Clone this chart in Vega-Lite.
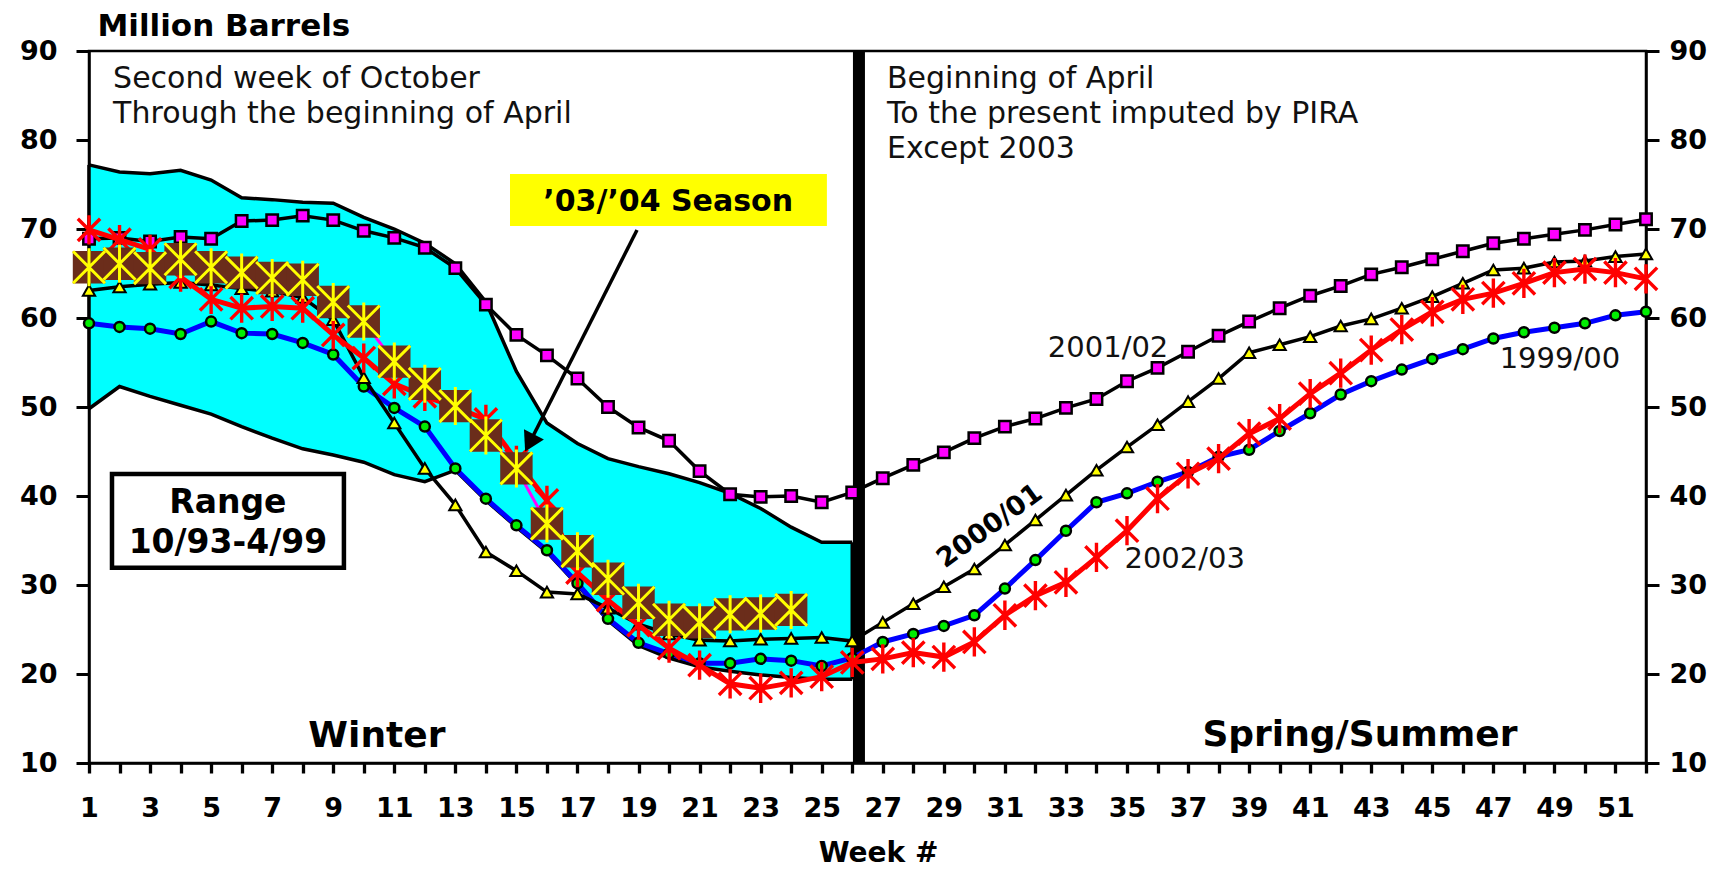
{
"$schema":"https://vega.github.io/schema/vega-lite/v6.json",
"width":1557,"height":712,
"autosize":{"type":"none"},
"padding":{"left":89,"top":51,"right":87,"bottom":106},
"background":"#ffffff",
"datasets":{
"series":[
{"week":1,"series":"2001/02","value":68.9},{"week":2,"series":"2001/02","value":69.0},{"week":3,"series":"2001/02","value":68.6},{"week":4,"series":"2001/02","value":69.1},{"week":5,"series":"2001/02","value":68.9},{"week":6,"series":"2001/02","value":70.9},{"week":7,"series":"2001/02","value":71.0},{"week":8,"series":"2001/02","value":71.5},{"week":9,"series":"2001/02","value":71.0},{"week":10,"series":"2001/02","value":69.8},
{"week":11,"series":"2001/02","value":69.0},{"week":12,"series":"2001/02","value":67.9},{"week":13,"series":"2001/02","value":65.6},{"week":14,"series":"2001/02","value":61.5},{"week":15,"series":"2001/02","value":58.1},{"week":16,"series":"2001/02","value":55.8},{"week":17,"series":"2001/02","value":53.2},{"week":18,"series":"2001/02","value":50.0},{"week":19,"series":"2001/02","value":47.7},{"week":20,"series":"2001/02","value":46.2},
{"week":21,"series":"2001/02","value":42.8},{"week":22,"series":"2001/02","value":40.2},{"week":23,"series":"2001/02","value":39.9},{"week":24,"series":"2001/02","value":40.0},{"week":25,"series":"2001/02","value":39.3},{"week":26,"series":"2001/02","value":40.4},{"week":27,"series":"2001/02","value":42.0},{"week":28,"series":"2001/02","value":43.5},{"week":29,"series":"2001/02","value":44.9},{"week":30,"series":"2001/02","value":46.5},
{"week":31,"series":"2001/02","value":47.8},{"week":32,"series":"2001/02","value":48.7},{"week":33,"series":"2001/02","value":49.9},{"week":34,"series":"2001/02","value":50.9},{"week":35,"series":"2001/02","value":52.9},{"week":36,"series":"2001/02","value":54.4},{"week":37,"series":"2001/02","value":56.2},{"week":38,"series":"2001/02","value":58.0},{"week":39,"series":"2001/02","value":59.6},{"week":40,"series":"2001/02","value":61.1},
{"week":41,"series":"2001/02","value":62.5},{"week":42,"series":"2001/02","value":63.6},{"week":43,"series":"2001/02","value":64.9},{"week":44,"series":"2001/02","value":65.7},{"week":45,"series":"2001/02","value":66.6},{"week":46,"series":"2001/02","value":67.5},{"week":47,"series":"2001/02","value":68.4},{"week":48,"series":"2001/02","value":68.9},{"week":49,"series":"2001/02","value":69.4},{"week":50,"series":"2001/02","value":69.9},
{"week":51,"series":"2001/02","value":70.5},{"week":52,"series":"2001/02","value":71.1},
{"week":1,"series":"2000/01","value":63.1},{"week":2,"series":"2000/01","value":63.5},{"week":3,"series":"2000/01","value":63.8},{"week":4,"series":"2000/01","value":64.0},{"week":5,"series":"2000/01","value":63.7},{"week":6,"series":"2000/01","value":63.3},{"week":7,"series":"2000/01","value":63.0},{"week":8,"series":"2000/01","value":62.3},{"week":9,"series":"2000/01","value":59.8},{"week":10,"series":"2000/01","value":53.3},
{"week":11,"series":"2000/01","value":48.2},{"week":12,"series":"2000/01","value":43.1},{"week":13,"series":"2000/01","value":39.0},{"week":14,"series":"2000/01","value":33.7},{"week":15,"series":"2000/01","value":31.6},{"week":16,"series":"2000/01","value":29.2},{"week":17,"series":"2000/01","value":29.0},{"week":18,"series":"2000/01","value":27.4},{"week":19,"series":"2000/01","value":25.6},{"week":20,"series":"2000/01","value":24.5},
{"week":21,"series":"2000/01","value":23.8},{"week":22,"series":"2000/01","value":23.7},{"week":23,"series":"2000/01","value":23.9},{"week":24,"series":"2000/01","value":24.0},{"week":25,"series":"2000/01","value":24.1},{"week":26,"series":"2000/01","value":23.7},{"week":27,"series":"2000/01","value":25.8},{"week":28,"series":"2000/01","value":27.9},{"week":29,"series":"2000/01","value":29.8},{"week":30,"series":"2000/01","value":31.8},
{"week":31,"series":"2000/01","value":34.5},{"week":32,"series":"2000/01","value":37.3},{"week":33,"series":"2000/01","value":40.1},{"week":34,"series":"2000/01","value":42.9},{"week":35,"series":"2000/01","value":45.5},{"week":36,"series":"2000/01","value":48.0},{"week":37,"series":"2000/01","value":50.6},{"week":38,"series":"2000/01","value":53.2},{"week":39,"series":"2000/01","value":56.1},{"week":40,"series":"2000/01","value":57.0},
{"week":41,"series":"2000/01","value":57.9},{"week":42,"series":"2000/01","value":59.1},{"week":43,"series":"2000/01","value":59.9},{"week":44,"series":"2000/01","value":61.1},{"week":45,"series":"2000/01","value":62.4},{"week":46,"series":"2000/01","value":63.9},{"week":47,"series":"2000/01","value":65.4},{"week":48,"series":"2000/01","value":65.6},{"week":49,"series":"2000/01","value":66.3},{"week":50,"series":"2000/01","value":66.4},
{"week":51,"series":"2000/01","value":66.9},{"week":52,"series":"2000/01","value":67.2},
{"week":1,"series":"1999/00","value":59.4},{"week":2,"series":"1999/00","value":59.0},{"week":3,"series":"1999/00","value":58.8},{"week":4,"series":"1999/00","value":58.2},{"week":5,"series":"1999/00","value":59.6},{"week":6,"series":"1999/00","value":58.3},{"week":7,"series":"1999/00","value":58.2},{"week":8,"series":"1999/00","value":57.2},{"week":9,"series":"1999/00","value":55.9},{"week":10,"series":"1999/00","value":52.3},
{"week":11,"series":"1999/00","value":49.9},{"week":12,"series":"1999/00","value":47.8},{"week":13,"series":"1999/00","value":43.1},{"week":14,"series":"1999/00","value":39.7},{"week":15,"series":"1999/00","value":36.7},{"week":16,"series":"1999/00","value":33.9},{"week":17,"series":"1999/00","value":30.2},{"week":18,"series":"1999/00","value":26.2},{"week":19,"series":"1999/00","value":23.5},{"week":20,"series":"1999/00","value":22.3},
{"week":21,"series":"1999/00","value":21.2},{"week":22,"series":"1999/00","value":21.2},{"week":23,"series":"1999/00","value":21.7},{"week":24,"series":"1999/00","value":21.5},{"week":25,"series":"1999/00","value":20.9},{"week":26,"series":"1999/00","value":21.8},{"week":27,"series":"1999/00","value":23.6},{"week":28,"series":"1999/00","value":24.5},{"week":29,"series":"1999/00","value":25.4},{"week":30,"series":"1999/00","value":26.6},
{"week":31,"series":"1999/00","value":29.6},{"week":32,"series":"1999/00","value":32.8},{"week":33,"series":"1999/00","value":36.1},{"week":34,"series":"1999/00","value":39.3},{"week":35,"series":"1999/00","value":40.3},{"week":36,"series":"1999/00","value":41.6},{"week":37,"series":"1999/00","value":42.7},{"week":38,"series":"1999/00","value":44.4},{"week":39,"series":"1999/00","value":45.2},{"week":40,"series":"1999/00","value":47.3},
{"week":41,"series":"1999/00","value":49.3},{"week":42,"series":"1999/00","value":51.4},{"week":43,"series":"1999/00","value":52.9},{"week":44,"series":"1999/00","value":54.2},{"week":45,"series":"1999/00","value":55.4},{"week":46,"series":"1999/00","value":56.5},{"week":47,"series":"1999/00","value":57.7},{"week":48,"series":"1999/00","value":58.4},{"week":49,"series":"1999/00","value":58.9},{"week":50,"series":"1999/00","value":59.4},
{"week":51,"series":"1999/00","value":60.3},{"week":52,"series":"1999/00","value":60.7},
{"week":1,"series":"2002/03","value":69.9},{"week":2,"series":"2002/03","value":68.8},{"week":3,"series":"2002/03","value":67.7},{"week":4,"series":"2002/03","value":64.6},{"week":5,"series":"2002/03","value":62.1},{"week":6,"series":"2002/03","value":61.1},{"week":7,"series":"2002/03","value":61.3},{"week":8,"series":"2002/03","value":61.1},{"week":9,"series":"2002/03","value":58.1},{"week":10,"series":"2002/03","value":55.5},
{"week":11,"series":"2002/03","value":52.6},{"week":12,"series":"2002/03","value":51.2},{"week":13,"series":"2002/03","value":50.0},{"week":14,"series":"2002/03","value":48.6},{"week":15,"series":"2002/03","value":44.0},{"week":16,"series":"2002/03","value":39.5},{"week":17,"series":"2002/03","value":31.4},{"week":18,"series":"2002/03","value":28.3},{"week":19,"series":"2002/03","value":25.5},{"week":20,"series":"2002/03","value":22.9},
{"week":21,"series":"2002/03","value":21.0},{"week":22,"series":"2002/03","value":18.9},{"week":23,"series":"2002/03","value":18.4},{"week":24,"series":"2002/03","value":19.0},{"week":25,"series":"2002/03","value":19.7},{"week":26,"series":"2002/03","value":21.3},{"week":27,"series":"2002/03","value":21.7},{"week":28,"series":"2002/03","value":22.4},{"week":29,"series":"2002/03","value":21.9},{"week":30,"series":"2002/03","value":23.6},
{"week":31,"series":"2002/03","value":26.6},{"week":32,"series":"2002/03","value":28.8},{"week":33,"series":"2002/03","value":30.3},{"week":34,"series":"2002/03","value":33.1},{"week":35,"series":"2002/03","value":36.1},{"week":36,"series":"2002/03","value":39.7},{"week":37,"series":"2002/03","value":42.5},{"week":38,"series":"2002/03","value":44.2},{"week":39,"series":"2002/03","value":47.0},{"week":40,"series":"2002/03","value":48.7},
{"week":41,"series":"2002/03","value":51.5},{"week":42,"series":"2002/03","value":53.8},{"week":43,"series":"2002/03","value":56.4},{"week":44,"series":"2002/03","value":58.7},{"week":45,"series":"2002/03","value":60.7},{"week":46,"series":"2002/03","value":62.1},{"week":47,"series":"2002/03","value":62.8},{"week":48,"series":"2002/03","value":63.9},{"week":49,"series":"2002/03","value":65.1},{"week":50,"series":"2002/03","value":65.5},
{"week":51,"series":"2002/03","value":65.1},{"week":52,"series":"2002/03","value":64.4},
{"week":1,"series":"2003/04","value":65.7},{"week":2,"series":"2003/04","value":66.1},{"week":3,"series":"2003/04","value":65.6},{"week":4,"series":"2003/04","value":66.6},{"week":5,"series":"2003/04","value":65.7},{"week":6,"series":"2003/04","value":65.1},{"week":7,"series":"2003/04","value":64.5},{"week":8,"series":"2003/04","value":64.3},{"week":9,"series":"2003/04","value":61.8},{"week":10,"series":"2003/04","value":59.6},
{"week":11,"series":"2003/04","value":55.1},{"week":12,"series":"2003/04","value":52.6},{"week":13,"series":"2003/04","value":50.1},{"week":14,"series":"2003/04","value":46.8},{"week":15,"series":"2003/04","value":43.1},{"week":16,"series":"2003/04","value":36.9},{"week":17,"series":"2003/04","value":33.8},{"week":18,"series":"2003/04","value":30.7},{"week":19,"series":"2003/04","value":28.0},{"week":20,"series":"2003/04","value":26.1},
{"week":21,"series":"2003/04","value":25.8},{"week":22,"series":"2003/04","value":26.7},{"week":23,"series":"2003/04","value":26.8},{"week":24,"series":"2003/04","value":27.2}
],
"range":[
{"week":1,"lo":49.8,"hi":77.2},{"week":2,"lo":52.3,"hi":76.4},{"week":3,"lo":51.2,"hi":76.2},{"week":4,"lo":50.2,"hi":76.6},{"week":5,"lo":49.2,"hi":75.5},{"week":6,"lo":47.8,"hi":73.5},{"week":7,"lo":46.5,"hi":73.3},{"week":8,"lo":45.3,"hi":73.0},{"week":9,"lo":44.6,"hi":72.9},{"week":10,"lo":43.8,"hi":71.3},
{"week":11,"lo":42.4,"hi":70.0},{"week":12,"lo":41.6,"hi":68.4},{"week":13,"lo":42.9,"hi":66.1},{"week":14,"lo":39.5,"hi":61.8},{"week":15,"lo":36.5,"hi":54.0},{"week":16,"lo":33.7,"hi":48.2},{"week":17,"lo":30.0,"hi":45.9},{"week":18,"lo":26.0,"hi":44.2},{"week":19,"lo":23.2,"hi":43.3},{"week":20,"lo":21.8,"hi":42.5},
{"week":21,"lo":20.8,"hi":41.5},{"week":22,"lo":20.3,"hi":40.3},{"week":23,"lo":19.9,"hi":38.6},{"week":24,"lo":19.6,"hi":36.5},{"week":25,"lo":19.4,"hi":34.8},{"week":26,"lo":19.4,"hi":34.8}
],
"notes":[
{"kind":"note","week":1.79,"val":85.8,"label":"Second week of October"},
{"kind":"note","week":1.79,"val":81.9,"label":"Through the beginning of April"},
{"kind":"note","week":27.14,"val":85.8,"label":"Beginning of April"},
{"kind":"note","week":27.14,"val":81.9,"label":"To the present imputed by PIRA"},
{"kind":"note","week":27.14,"val":77.95,"label":"Except 2003"},
{"kind":"season","week":34.38,"val":55.65,"label":"2001/02"},
{"kind":"season","week":36.89,"val":31.88,"label":"2002/03"},
{"kind":"season","week":49.18,"val":54.35,"label":"1999/00"},
{"kind":"seasonRot","week":30.51,"val":36.6,"label":"2000/01"},
{"kind":"big","week":10.43,"val":11.83,"label":"Winter"},
{"kind":"big","week":42.63,"val":11.9,"label":"Spring/Summer"},
{"kind":"rangeText","week":5.55,"val":38.12,"label":"Range"},
{"kind":"rangeText","week":5.55,"val":33.63,"label":"10/93-4/99"},
{"kind":"rangeBox","week":1.753,"week2":9.35,"val":42.47,"val2":31.94},
{"kind":"seasonBox","week":14.79,"week2":25.17,"val":76.18,"val2":70.34},
{"kind":"seasonText","week":19.97,"val":72.0,"label":"’03/’04 Season"},
{"kind":"arrow","week":18.95,"week2":15.43,"val":69.89,"val2":45.96},
{"kind":"arrowHead","week":15.43,"val":45.96},
{"kind":"divider","week":26.22}
]
},
"encoding":{"x":{"field":"week","type":"quantitative","scale":{"domain":[1,52],"nice":false,"zero":false},
"axis":{"values":[1,2,3,4,5,6,7,8,9,10,11,12,13,14,15,16,17,18,19,20,21,22,23,24,25,26,27,28,29,30,31,32,33,34,35,36,37,38,39,40,41,42,43,44,45,46,47,48,49,50,51,52],
"labelExpr":"datum.value % 2 === 1 ? datum.label : ''","labelOverlap":false,"labelFlush":false,"labelPadding":22,"tickSize":10,"tickWidth":3.3,
"title":"Week #","titleFontSize":28,"titlePadding":18,"titleX":789}}},
"layer":[
{"data":{"name":"range"},"mark":{"type":"area","color":"#00FFFF","opacity":1},
"encoding":{"y":{"field":"lo","type":"quantitative","scale":{"domain":[10,90],"nice":false,"zero":false},
"axis":{"orient":"left","values":[10,20,30,40,50,60,70,80,90],"title":"Million Barrels","titleAngle":0,"titleAlign":"left","titleBaseline":"alphabetic","titleX":8,"titleY":-16,"titleFontSize":31,"labelPadding":19,"tickSize":13}},
"y2":{"field":"hi"}}},
{"data":{"name":"range"},"mark":{"type":"line","color":"#000000","strokeWidth":3.5},"encoding":{"y":{"field":"hi","type":"quantitative","axis":null}}},
{"data":{"name":"range"},"mark":{"type":"line","color":"#000000","strokeWidth":3.5},"encoding":{"y":{"field":"lo","type":"quantitative","axis":null}}},
{"data":{"name":"range"},"transform":[{"filter":"datum.week == 1 || datum.week == 26"}],"mark":{"type":"rule","color":"#000000","strokeWidth":3.5},"encoding":{"y":{"field":"lo","type":"quantitative","axis":null},"y2":{"field":"hi"}}},
{"data":{"name":"notes"},"transform":[{"filter":"datum.kind == 'divider'"}],"mark":{"type":"rule","color":"#000000","strokeWidth":12},"encoding":{}},
{"data":{"name":"series"},"transform":[{"filter":"datum.series == '1999/00'"}],"mark":{"type":"line","color":"#0000FF","strokeWidth":5},"encoding":{"y":{"field":"value","type":"quantitative","axis":null}}},
{"data":{"name":"series"},"transform":[{"filter":"datum.series == '1999/00'"}],"mark":{"type":"point","shape":"circle","filled":true,"fill":"#00EE00","stroke":"#000000","strokeWidth":2.5,"size":100,"opacity":1},"encoding":{"y":{"field":"value","type":"quantitative","axis":null}}},
{"data":{"name":"series"},"transform":[{"filter":"datum.series == '2000/01'"}],"mark":{"type":"line","color":"#000000","strokeWidth":3.5},"encoding":{"y":{"field":"value","type":"quantitative","axis":null}}},
{"data":{"name":"series"},"transform":[{"filter":"datum.series == '2000/01'"}],"mark":{"type":"point","shape":"triangle-up","filled":true,"fill":"#FFFF00","stroke":"#000000","strokeWidth":2,"size":150,"opacity":1},"encoding":{"y":{"field":"value","type":"quantitative","axis":null}}},
{"data":{"name":"series"},"transform":[{"filter":"datum.series == '2001/02'"}],"mark":{"type":"line","color":"#000000","strokeWidth":3.5},"encoding":{"y":{"field":"value","type":"quantitative","axis":null}}},
{"data":{"name":"series"},"transform":[{"filter":"datum.series == '2001/02'"}],"mark":{"type":"point","shape":"square","filled":true,"fill":"#FF00FF","stroke":"#000000","strokeWidth":2.5,"size":130,"opacity":1},"encoding":{"y":{"field":"value","type":"quantitative","axis":null}}},
{"data":{"name":"series"},"transform":[{"filter":"datum.series == '2002/03'"}],"mark":{"type":"line","color":"#FF0000","strokeWidth":5},"encoding":{"y":{"field":"value","type":"quantitative","axis":null}}},
{"data":{"name":"series"},"transform":[{"filter":"datum.series == '2002/03'"}],"mark":{"type":"point","shape":"M-0.8,-0.8L0.8,0.8M0.8,-0.8L-0.8,0.8M0,-1.05L0,1.05","filled":false,"stroke":"#FF0000","strokeWidth":3.4,"size":780,"opacity":1},"encoding":{"y":{"field":"value","type":"quantitative","axis":null}}},
{"data":{"name":"series"},"transform":[{"filter":"datum.series == '2003/04'"}],"mark":{"type":"line","color":"#FF00FF","strokeWidth":3},"encoding":{"y":{"field":"value","type":"quantitative","axis":null}}},
{"data":{"name":"series"},"transform":[{"filter":"datum.series == '2003/04'"}],"mark":{"type":"point","shape":"square","filled":true,"fill":"#6B2D1B","strokeWidth":0,"size":1050,"opacity":1},"encoding":{"y":{"field":"value","type":"quantitative","axis":null}}},
{"data":{"name":"series"},"transform":[{"filter":"datum.series == '2003/04'"}],"mark":{"type":"point","shape":"M-0.8,-0.8L0.8,0.8M0.8,-0.8L-0.8,0.8M0,-0.95L0,0.95","filled":false,"stroke":"#FFFF00","strokeWidth":3,"size":1600,"opacity":1},"encoding":{"y":{"field":"value","type":"quantitative","axis":null}}},
{"data":{"name":"notes"},"transform":[{"filter":"datum.kind == 'rangeBox'"}],"mark":{"type":"rect","fill":"#FFFFFF","stroke":"#000000","strokeWidth":4.5},"encoding":{"x2":{"field":"week2"},"y":{"field":"val","type":"quantitative","axis":null},"y2":{"field":"val2"}}},
{"data":{"name":"notes"},"transform":[{"filter":"datum.kind == 'seasonBox'"}],"mark":{"type":"rect","fill":"#FFFF00","strokeWidth":0},"encoding":{"x2":{"field":"week2"},"y":{"field":"val","type":"quantitative","axis":null},"y2":{"field":"val2"}}},
{"data":{"name":"notes"},"transform":[{"filter":"datum.kind == 'arrow'"}],"mark":{"type":"rule","color":"#000000","strokeWidth":3.5},"encoding":{"x2":{"field":"week2"},"y":{"field":"val","type":"quantitative","axis":null},"y2":{"field":"val2"}}},
{"data":{"name":"notes"},"transform":[{"filter":"datum.kind == 'arrowHead'"}],"mark":{"type":"point","shape":"triangle-down","filled":true,"fill":"#000000","strokeWidth":0,"size":500,"angle":27,"opacity":1},"encoding":{"y":{"field":"val","type":"quantitative","axis":null}}},
{"data":{"name":"notes"},"transform":[{"filter":"datum.kind == 'note'"}],"mark":{"type":"text","font":"DejaVu Sans","fontSize":30,"align":"left","baseline":"alphabetic","color":"#111111"},"encoding":{"y":{"field":"val","type":"quantitative","axis":null},"text":{"field":"label"}}},
{"data":{"name":"notes"},"transform":[{"filter":"datum.kind == 'season'"}],"mark":{"type":"text","font":"DejaVu Sans","fontSize":29,"align":"center","baseline":"alphabetic","color":"#111111"},"encoding":{"y":{"field":"val","type":"quantitative","axis":null},"text":{"field":"label"}}},
{"data":{"name":"notes"},"transform":[{"filter":"datum.kind == 'seasonRot'"}],"mark":{"type":"text","font":"DejaVu Sans","fontSize":27,"fontWeight":"bold","align":"center","baseline":"middle","angle":324,"color":"#000000"},"encoding":{"y":{"field":"val","type":"quantitative","axis":null},"text":{"field":"label"}}},
{"data":{"name":"notes"},"transform":[{"filter":"datum.kind == 'big'"}],"mark":{"type":"text","font":"DejaVu Sans","fontSize":36,"fontWeight":"bold","align":"center","baseline":"alphabetic","color":"#000000"},"encoding":{"y":{"field":"val","type":"quantitative","axis":null},"text":{"field":"label"}}},
{"data":{"name":"notes"},"transform":[{"filter":"datum.kind == 'rangeText'"}],"mark":{"type":"text","font":"DejaVu Sans","fontSize":33,"fontWeight":"bold","align":"center","baseline":"alphabetic","color":"#000000"},"encoding":{"y":{"field":"val","type":"quantitative","axis":null},"text":{"field":"label"}}},
{"data":{"name":"notes"},"transform":[{"filter":"datum.kind == 'seasonText'"}],"mark":{"type":"text","font":"DejaVu Sans","fontSize":30,"fontWeight":"bold","align":"center","baseline":"alphabetic","color":"#000000"},"encoding":{"y":{"field":"val","type":"quantitative","axis":null},"text":{"field":"label"}}},
{"data":{"name":"range"},"mark":{"type":"point","opacity":0},
"encoding":{"y":{"field":"hi","type":"quantitative","scale":{"domain":[10,90],"nice":false,"zero":false},
"axis":{"orient":"right","values":[10,20,30,40,50,60,70,80,90],"title":null,"labelPadding":10,"tickSize":13}}}}
],
"resolve":{"axis":{"y":"independent"}},
"config":{
"view":{"stroke":"#000000","strokeWidth":2.5},
"font":"DejaVu Sans",
"axis":{"grid":false,"labelFont":"DejaVu Sans","labelFontSize":27,"labelFontWeight":"bold","labelColor":"#000000","domainColor":"#000000","domainWidth":2.5,"tickColor":"#000000","tickWidth":3,"titleFont":"DejaVu Sans","titleFontWeight":"bold","titleColor":"#000000"}
}
}
